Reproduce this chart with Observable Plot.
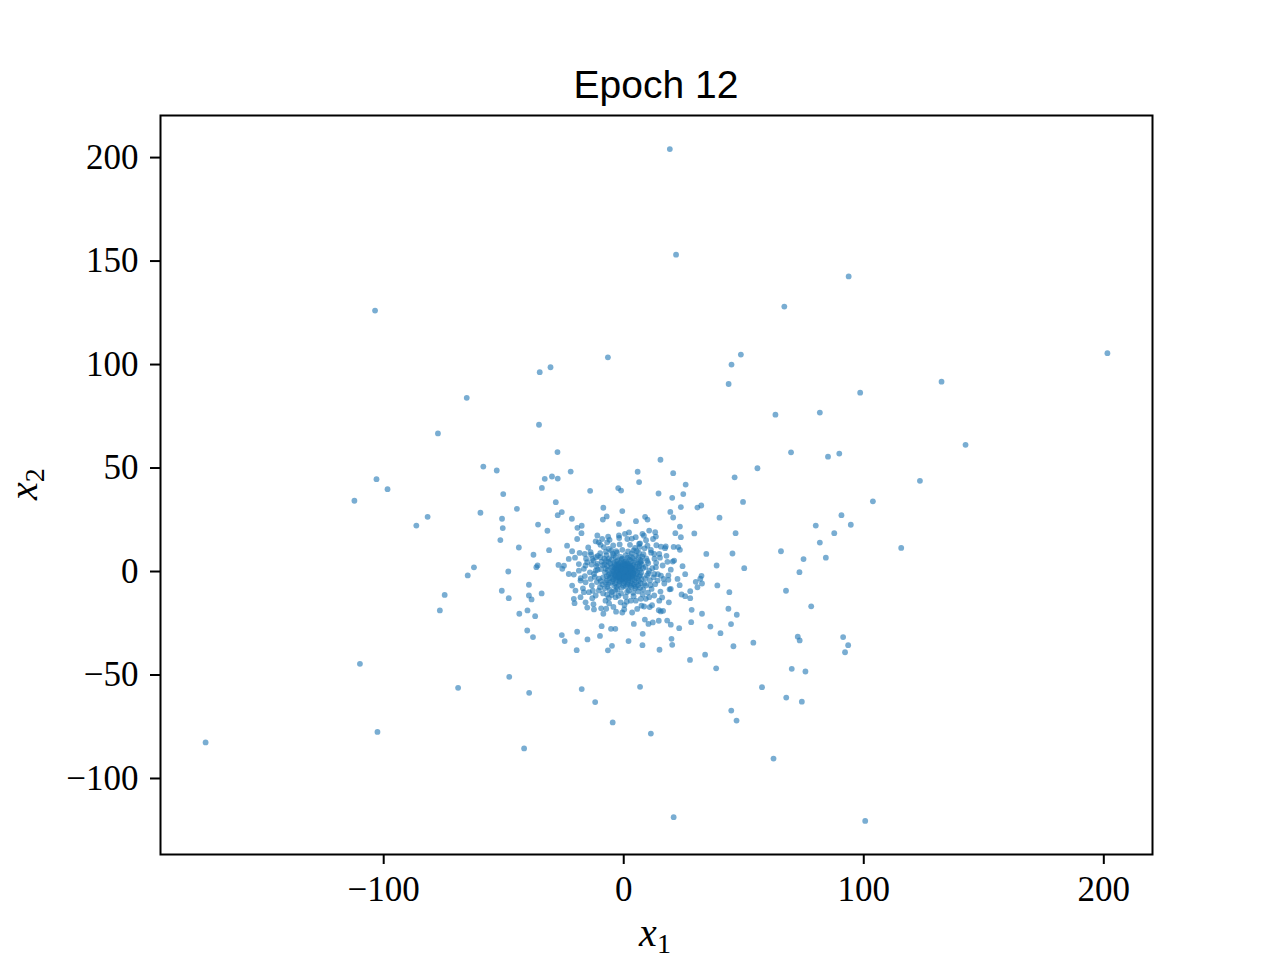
<!DOCTYPE html>
<html>
<head>
<meta charset="utf-8">
<script src="https://cdn.jsdelivr.net/npm/d3@7"></script>
<script src="https://cdn.jsdelivr.net/npm/@observablehq/plot@0.6"></script>
<style>
  html, body { margin: 0; padding: 0; background: #fff; }
  #chart { width: 1280px; height: 960px; }
</style>
</head>
<body>
<div id="chart"></div>
<script>
// ---- data: [x1, x2] pairs ----
const farPoints = [
  [19.2,204.1],[21.8,153.1],[93.7,142.6],[-103.6,126.1],[66.9,128],[201.5,105.5],
  [48.8,104.8],[-6.6,103.5],[44.9,100],[-30.5,98.7],[-35,96.3],[43.7,90.6],
  [132.4,91.7],[98.5,86.4],[-65.4,83.9],[63.2,75.8],[81.7,76.8],[-77.4,66.7],
  [-35.3,70.9],[142.4,61.2],[69.7,57.6],[85.1,55.5],[89.8,57],[123.4,43.8],
  [103.8,33.9],[55.7,49.9],[46.2,45.5],[49.7,33.6],[115.6,11.4],[-103,44.6],
  [-98.4,39.8],[-112.2,34.2],[-86.4,22.2],[-81.7,26.4],[-174.2,-82.6],[-109.9,-44.6],
  [-102.6,-77.5],[-69,-56.2],[-47.7,-50.9],[-39.4,-58.6],[-41.5,-85.5],[91.4,-31.7],
  [93.5,-35.6],[92.2,-39],[100.6,-120.5],[20.8,-118.7],[62.4,-90.4],[47,-72],
  [44.8,-67.2],[78.1,-16.8],[84.2,6.7],[87.7,18.5],[90.7,27.2],[94.6,22.6],
  [-4.6,-72.9],[11.3,-78.3]
];

const midPoints = [
  [-27.6,57.7],[15.3,54],[-58.5,50.7],[-52.9,48.8],[-22.1,48.3],[5.8,48.2],[20.6,47.5],
  [-32.9,44.8],[-29.9,45.9],[-27.5,44.9],[6.4,43.2],[25.8,42.0],[-50.2,37.4],[-34.1,40.4],
  [-14,39],[-2.3,40.3],[-1.1,39.1],[14.5,37.7],[24.8,37.4],[20.2,35.6],[-28.3,33.5],
  [23.8,31.1],[30.7,30.9],[32.3,31.9],[-59.7,28.4],[-44.5,30.3],[-8.5,30.8],[-0.6,29.2],
  [-27.5,27.2],[-25.8,28.7],[-50.7,25.5],[-21.6,25.5],[-8.7,25.1],[-7.1,26.6],[8.9,26.4],
  [9.9,25.1],[5.1,24.3],[19.4,28.8],[20.6,26.1],[39.9,26],[-50.4,21],[-35.7,22.7],
  [-19.3,21.1],[-17.5,22.1],[80,22.2],[-31.8,19.7],[29.4,18.4],[46.6,18.5],[-51.4,15.2],
  [81.7,14],[-43.7,11.6],[-31.1,10.3],[17.5,12.1],[20.8,11.9],[22.7,11.8],[23.4,10.5],
  [65.5,9.8],[-37.6,8.1],[34.4,8.5],[45.3,8.7],[74.9,6],[-22.9,6.1],[18.2,4.7],
  [-62.4,2],[-65,-1.9],[-48.1,0],[-36.4,2.1],[-35.9,2.9],[-27.2,3.2],[-25.6,1.3],
  [-24.9,2.8],[24.5,2.6],[38.7,2.9],[50.2,1.6],[73.2,-0.3],[25.6,-1.3],[-74.6,-11.3],
  [-76.6,-18.8],[-50.8,-9.3],[-47.9,-12.9],[-39.5,-6.4],[-39.5,-11.6],[-38.4,-13.5],
  [-34.2,-10.6],[19.6,-8.4],[23.3,-6.6],[30,-5],[31.9,-3.5],[32.6,-5.8],[30.7,-7.6],
  [27.7,-9.5],[24.1,-11.1],[25.6,-11.9],[27.7,-12.9],[39,-6.7],[44,-10],[67.6,-9.3],
  [-43.5,-20.4],[-40.1,-18.8],[-36.9,-21.6],[-20.5,-15.3],[-12.4,-18.3],[-8.5,-20.4],
  [-7.3,-18],[-0.6,-19.8],[0.2,-18.3],[3.5,-19.8],[8.5,-16.9],[10.8,-17.2],[14.6,-18.7],
  [15.4,-19.3],[16.4,-19],[28.3,-18.5],[32.6,-20.4],[43.6,-18],[47.1,-20.9],[-40.2,-28.5],
  [-37.8,-31.7],[-25.8,-30.7],[-24.6,-33.6],[-19.4,-29.1],[-19.6,-38],[-15.1,-32.8],
  [-9.9,-31.1],[-9.2,-26.4],[-5.3,-27.7],[-3.5,-27.7],[-6.6,-38.1],[-4.9,-35.9],[2,-33.6],
  [4.2,-25.3],[7.9,-30.1],[7.8,-35.6],[8.8,-23.2],[10.3,-25.3],[12.1,-24.6],[14.6,-23.8],
  [14.9,-37.8],[18.1,-23.7],[19.6,-25.7],[19.9,-32.5],[20.2,-35.4],[23.1,-27.4],[28.1,-24.5],
  [36.1,-26.6],[40.3,-29.8],[44.7,-25.4],[45.7,-36.1],[54,-34.4],[72.5,-31.5],[73.3,-33.3],
  [27.6,-42.7],[33.9,-40.2],[38.5,-46.8],[70,-47],[75.7,-48.3],[-17.5,-56.8],[-11.9,-63.1],
  [6.8,-55.7],[57.6,-55.9],[67.7,-60.9],[74.2,-62.9]
];

const ringPoints = [
  [-17.6,18.5],[-19.4,15.7],[-23.6,12.5],[-21.5,9.8],[-18.4,9],[-16.2,8.5],[-13.8,9.3],
  [-11,17.4],[-10.4,14.1],[-9,15.7],[-6.9,14.1],[-6.2,10.9],[-2,23],[-2,17.4],[0.5,18.2],
  [1.5,15.7],[5,16.6],[7.8,18.2],[6.4,13.3],[9.9,12.5],[10.6,19.8],[13.1,19],[13.4,16.9],
  [11.3,10.4],[12.7,8.5],[14.8,8.5],[15.5,12.0],[23.8,16.6],[23.4,21.7],[21.5,18.5],
  [21,5.3],[13.4,2.1],[12.7,-1.2],[15.5,-2],[14.1,-4.4],[22.4,-3.6],[14.8,-14.1],
  [12.7,-11.6],[10.6,-12.4],[9.2,-13.2],[7.1,-13.2],[5,-14.1],[2.9,-14.1],[-3.4,-12.4],
  [-1.3,-14.9],[-6.2,-12.8],[-7.6,-14.1],[-15.9,-14.9],[-18,-12.4],[-20.8,-13.2],
  [-16.6,-10],[-14.5,-10],[-11.7,-11.6],[-10.4,-9.2],[-20.1,-9.2],[-21.5,-6.8],[-18,-4.4],
  [-15.9,-5.2],[-13.8,-3.6],[-22.9,-1.2],[-20.8,-1.5],[-18.7,0.4],[-16.6,1.3],[-15.2,4.5],
  [-13.1,6.1],[-11,3.7],[-11.7,0.4],[-12.4,-1.2],[-9.7,6.9],[-15.9,2.9],[18.6,-1.9],
  [18.6,-4.0],[32.4,-2.1],
  [-9.2,4.8],[-8.6,-2.9],[-9.5,1.2],[-8.9,-6.2],[-10.3,-3.4],[-9.8,8.9],[-7.4,9.6],
  [-5.2,10.1],[-3.1,9.8],[-0.6,10.5],[1.8,9.7],[4.1,10.2],[6.3,9.1],[8.2,8.4],[9.4,6.3],
  [10.2,4.1],[9.1,2.2],[10.6,0.3],[9.7,-1.9],[10.9,-4.3],[9.2,-6.8],[8.1,-8.7],[6.0,-9.6],
  [3.9,-10.3],[1.4,-9.9],[-1.1,-10.6],[-3.6,-9.4],[-5.8,-8.9],[-7.9,-8.1],[-9.9,-7.6],
  [-11.2,-5.1],[-12.1,-2.6],[-11.4,2.7],[-12.6,5.3],[-10.8,7.6],[-8.3,11.8],[-4.4,12.6],
  [-1.7,13.1],[2.6,12.9],[4.7,11.4],[8.7,11.2],[11.4,9.1],[12.8,6.2],[13.5,4.2],[11.9,1.6],
  [12.4,-2.8],[13.1,-6.1],[11.6,-8.4],[10.1,-10.2],[7.9,-11.1],[4.1,-11.9],[0.8,-12.2],
  [-2.2,-11.7],[-5.0,-11.4],[-8.6,-10.6],[-13.3,-6.7],[-14.1,-0.4],[-13.6,8.1],[-9.7,12.9],
  [6.8,13.6],[16.2,2.9],[16.9,-5.8],[15.3,-9.7],[17.8,7.6],[-14.8,11.6],[-5.9,15.3],
  [3.4,15.9],[9.3,15.1],[-17.0,-8.1],[-15.7,6.2],[16.0,-12.5],[-12.6,-15.8],[0.3,-16.2],
  [-4.3,-17.1],[7.4,-16.5],[19.6,0.9],[-18.7,3.6],[18.8,-14.9],[-9.4,-17.8],[12.2,15.7],
  [-8.1,6.2],[-9.6,-4.6],[-7.2,7.9],[8.9,-3.3],[9.8,5.1],[7.7,7.2],[-6.8,-7.4],[6.9,-7.8],
  [-10.9,0.9],[10.3,-0.9],[-2.8,9.1],[2.1,-9.2],[-4.9,-9.9],[5.4,9.8],[-12.9,-9.3],[14.2,-1.3],
  [-13.4,3.4],[15.1,6.7],[-6.5,16.8],[2.2,18.9],[8.4,17.3],[-11.7,14.6],[17.2,11.3],[-17.9,-3.2],
  [19.1,-8.6],[-3.2,-19.4],[5.6,-18.1],[11.8,-16.3],[-15.2,-17.4],[-20.3,6.7],[20.4,4.8],
  [-6.1,-15.4],[13.6,12.7],[-13.1,-12.9],[1.2,-14.6],[-1.9,16.2],[16.6,-3.6],[-16.2,-2.2],
  [7.3,4.9],[-7.6,-5.3],[4.8,-8.1],[-4.6,8.6],[8.6,-5.9],[-8.8,3.1],[3.3,8.8],[-2.7,-8.7],
  [11.1,-6.6],[-11.6,6.9],[6.6,11.9],[-6.9,-11.2]
];

const corePoints = [
  [-4.2,7.8],[-1.3,7.1],[0.8,7.9],[2.9,7.3],[5.1,7.6],
  [-6.1,6.3],[-3.4,6.9],[-0.7,6.2],[1.6,6.7],[3.8,6.4],[6.2,6.8],
  [-7.3,5.2],[-5.0,5.8],[-2.6,5.4],[-0.9,5.9],[0.9,5.1],[2.4,5.7],[4.6,5.3],[7.0,5.6],
  [-6.4,4.7],[-4.1,4.2],[-2.9,4.8],[-1.5,4.3],[0.2,4.6],[1.3,4.1],[3.1,4.9],[5.3,4.4],[6.8,4.2],
  [-8.0,3.4],[-5.6,3.8],[-3.7,3.3],[-2.2,3.7],[-0.8,3.2],[0.5,3.9],[1.9,3.4],[2.8,3.6],[4.0,3.1],[5.9,3.7],[7.6,3.3],
  [-6.9,2.7],[-4.8,2.3],[-3.1,2.8],[-1.9,2.2],[-0.4,2.6],[0.7,2.1],[1.5,2.9],[2.6,2.4],[3.7,2.7],[5.0,2.2],[6.5,2.6],
  [-7.5,1.3],[-5.3,1.8],[-3.9,1.2],[-2.7,1.7],[-1.2,1.4],[-0.2,1.9],[0.9,1.2],[1.8,1.6],[3.2,1.8],[4.4,1.1],[6.1,1.5],[8.1,1.7],
  [-6.6,0.6],[-4.5,0.2],[-3.0,0.8],[-1.7,0.3],[-0.6,0.7],[0.3,0.1],[1.1,0.9],[2.2,0.4],[3.5,0.6],[4.9,0.3],[6.8,0.8],
  [-7.8,-0.4],[-5.7,-0.8],[-4.2,-0.2],[-2.4,-0.6],[-1.0,-0.3],[0.0,-0.9],[0.8,-0.2],[1.6,-0.7],[2.9,-0.4],[4.1,-0.8],[5.6,-0.3],[7.3,-0.6],
  [-6.3,-1.7],[-4.9,-1.2],[-3.3,-1.8],[-2.0,-1.3],[-0.7,-1.6],[0.4,-1.2],[1.4,-1.9],[2.5,-1.4],[3.9,-1.7],[5.2,-1.3],[6.9,-1.8],
  [-7.1,-2.3],[-5.2,-2.8],[-3.6,-2.2],[-2.3,-2.7],[-1.1,-2.4],[0.1,-2.9],[1.2,-2.3],[2.0,-2.6],[3.3,-2.2],[4.7,-2.8],[6.4,-2.4],
  [-6.0,-3.3],[-4.4,-3.8],[-2.8,-3.2],[-1.4,-3.7],[-0.3,-3.4],[0.9,-3.9],[2.3,-3.3],[3.6,-3.6],[5.5,-3.2],[7.4,-3.7],
  [-7.0,-4.4],[-4.7,-4.8],[-3.2,-4.2],[-1.8,-4.7],[-0.5,-4.3],[0.6,-4.9],[1.9,-4.4],[3.0,-4.8],[4.5,-4.1],[6.3,-4.6],
  [-5.5,-5.3],[-3.5,-5.8],[-1.6,-5.2],[0.0,-5.7],[1.7,-5.4],[3.4,-5.9],[5.2,-5.3],[7.1,-5.6],
  [-6.5,-6.2],[-4.0,-6.8],[-2.1,-6.4],[-0.2,-6.9],[1.5,-6.3],[2.8,-6.7],[4.3,-6.2],[6.0,-6.6],
  [-3.0,-7.4],[-0.9,-7.8],[1.0,-7.2],[3.2,-7.7],[5.0,-7.3]
];

const innerPoints = [
  [-2.1,1.3],[-0.9,2.2],[0.4,1.7],[1.7,0.8],[2.8,-0.6],[1.3,-1.8],[-0.3,-2.1],[-1.6,-1.0],
  [-2.9,-0.2],[-3.4,1.9],[-1.8,3.1],[0.6,3.3],[2.4,2.6],[3.6,1.2],[3.2,-2.4],[1.9,-3.2],
  [-0.8,-3.6],[-2.6,-2.7],[-3.8,-1.5],[-0.2,0.4],[0.9,-0.5],[-1.2,0.1],[0.2,-1.1],[1.1,2.0],
  [-2.4,2.4],[2.1,-1.5],[-1.5,-2.4],[3.0,0.2],[-3.1,0.6],[0.0,2.9],[-0.5,-0.7],[0.7,0.6],
  [1.6,-2.6],[-2.0,-1.8],[2.6,1.6],[-1.1,1.5],[0.3,-2.8],[-3.6,-2.9],[3.9,-1.0],[-0.4,3.8]
];

const xTicks = [-100, 0, 100, 200];
const yTicks = [-100, -50, 0, 50, 100, 150, 200];
const titleText = "Epoch 12";

// ---- build table ----
const points = [...farPoints, ...midPoints, ...ringPoints, ...corePoints, ...innerPoints]
  .map(([x1, x2]) => ({x1, x2}));

const pad = ([a, b]) => { const m = (b - a) * 0.05; return [a - m, b + m]; };
const xDomain = pad(d3.extent(points, d => d.x1));
const yDomain = pad(d3.extent(points, d => d.x2));

const fmt = d => (d < 0 ? "\u2212" : "") + Math.abs(d);
const serif = "'Liberation Serif', 'DejaVu Serif', serif";

const svg = Plot.plot({
  width: 1280,
  height: 960,
  marginLeft: 160,
  marginRight: 128,
  marginTop: 115,
  marginBottom: 106,
  style: {background: "white", fontFamily: serif, color: "black"},
  x: {domain: xDomain},
  y: {domain: yDomain},
  marks: [
    Plot.dot(points, {x: "x1", y: "x2", r: 2.9, fill: "#1f77b4", fillOpacity: 0.6, stroke: "none"}),
    Plot.frame({stroke: "black", strokeWidth: 2}),
    Plot.axisX({ticks: xTicks, tickFormat: fmt, tickSize: 10, tickPadding: 12, strokeWidth: 2,
                fontSize: 35, fontFamily: serif, label: null}),
    Plot.axisY({ticks: yTicks, tickFormat: fmt, tickSize: 10, tickPadding: 12, strokeWidth: 2,
                fontSize: 35, fontFamily: serif, label: null})
  ]
});

const s = d3.select(svg);
// title
s.append("text")
  .attr("x", 656).attr("y", 98)
  .attr("text-anchor", "middle")
  .attr("font-family", "'Liberation Sans', Arial, sans-serif")
  .attr("font-size", 39)
  .attr("fill", "black")
  .text(titleText);

// x label: x_1
const xl = s.append("text")
  .attr("x", 655).attr("y", 946)
  .attr("text-anchor", "middle")
  .attr("font-family", serif)
  .attr("fill", "black");
xl.append("tspan").attr("font-style", "italic").attr("font-size", 40).text("x");
xl.append("tspan").attr("font-size", 28).attr("dy", 7).text("1");

// y label: x_2
const yl = s.append("text")
  .attr("transform", "translate(37,484) rotate(-90)")
  .attr("text-anchor", "middle")
  .attr("font-family", serif)
  .attr("fill", "black");
yl.append("tspan").attr("font-style", "italic").attr("font-size", 40).text("x");
yl.append("tspan").attr("font-size", 28).attr("dy", 7).text("2");

document.getElementById("chart").appendChild(svg);
</script>
</body>
</html>
